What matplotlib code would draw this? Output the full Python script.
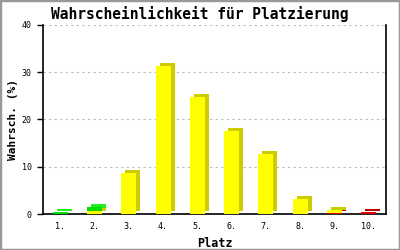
import numpy as np
import matplotlib.pyplot as plt
from matplotlib.transforms import ScaledTranslation
from matplotlib.patches import Rectangle

places = ['1.', '2.', '3.', '4.', '5.', '6.', '7.', '8.', '9.', '10.']
red = [0, 0, 0, 0, 0, 0, 0, 0, 0.3, 0.4]
yellow = [0, 0.6, 8.7, 31.4, 24.8, 17.6, 12.8, 3.2, 0.5, 0]
green = [0.4, 0.8, 0, 0, 0, 0, 0, 0, 0, 0]
yticks = [0, 10, 20, 30, 40]

mono = 'DejaVu Sans Mono'

fig = plt.figure(figsize=(4, 2.5), dpi=100)
ax = fig.add_axes([0.1075, 0.144, 0.8575, 0.756])

x = np.arange(1, len(places) + 1)
w = 0.44
shift = ScaledTranslation(4 / 100, 3 / 100, fig.dpi_scale_trans)

# stacked series, bottom to top: (values, front colour, shadow colour)
series = [(red, '#dd0000', '#bb0000'),
          (yellow, '#ffff00', '#cccc00'),
          (green, '#00dd00', '#22ee22')]

# shadows first, then the front faces
bottom = np.zeros(len(x))
for vals, col, shade in series:
    v = np.array(vals)
    keep = v > 0
    bars = ax.bar(x[keep], v[keep], w, bottom=bottom[keep], color=shade, zorder=2)
    for b in bars:
        b.set_transform(ax.transData + shift)
    bottom += v

bottom = np.zeros(len(x))
for vals, col, shade in series:
    v = np.array(vals)
    keep = v > 0
    ax.bar(x[keep], v[keep], w, bottom=bottom[keep], color=col, zorder=3)
    bottom += v

ax.set_xlim(0.5, len(places) + 0.5)
ax.set_ylim(0, 40)
ax.set_xticks(x)
ax.set_xticklabels(places, family=mono, fontsize=6)
ax.set_yticks(yticks)
ax.set_yticklabels([str(t) for t in yticks], family=mono, fontsize=6)
ax.tick_params(axis='x', length=0, pad=6)
ax.tick_params(axis='y', length=4, width=1, direction='out', pad=4)

ax.grid(axis='y', linestyle=(0, (2, 3)), color='#bbbbbb', linewidth=0.8, zorder=0)
ax.spines['top'].set_visible(False)
for s in ['left', 'right', 'bottom']:
    ax.spines[s].set_linewidth(1.2)

ax.set_xlabel('Platz', family=mono, fontweight='bold', fontsize=8.5, labelpad=4)
ax.set_ylabel('Wahrsch. (%)', family=mono, fontweight='bold', fontsize=8)
ax.yaxis.set_label_coords(-0.072, 0.5)
fig.text(0.5, 0.945, 'Wahrscheinlichkeit für Platzierung', family=mono,
         fontweight='bold', fontsize=10.5, ha='center', va='center')

fig.patches.append(Rectangle((0, 0), 1, 1, transform=fig.transFigure, fill=False,
                             edgecolor='#999999', linewidth=2.5))

fig.savefig('out.png', dpi=100)
